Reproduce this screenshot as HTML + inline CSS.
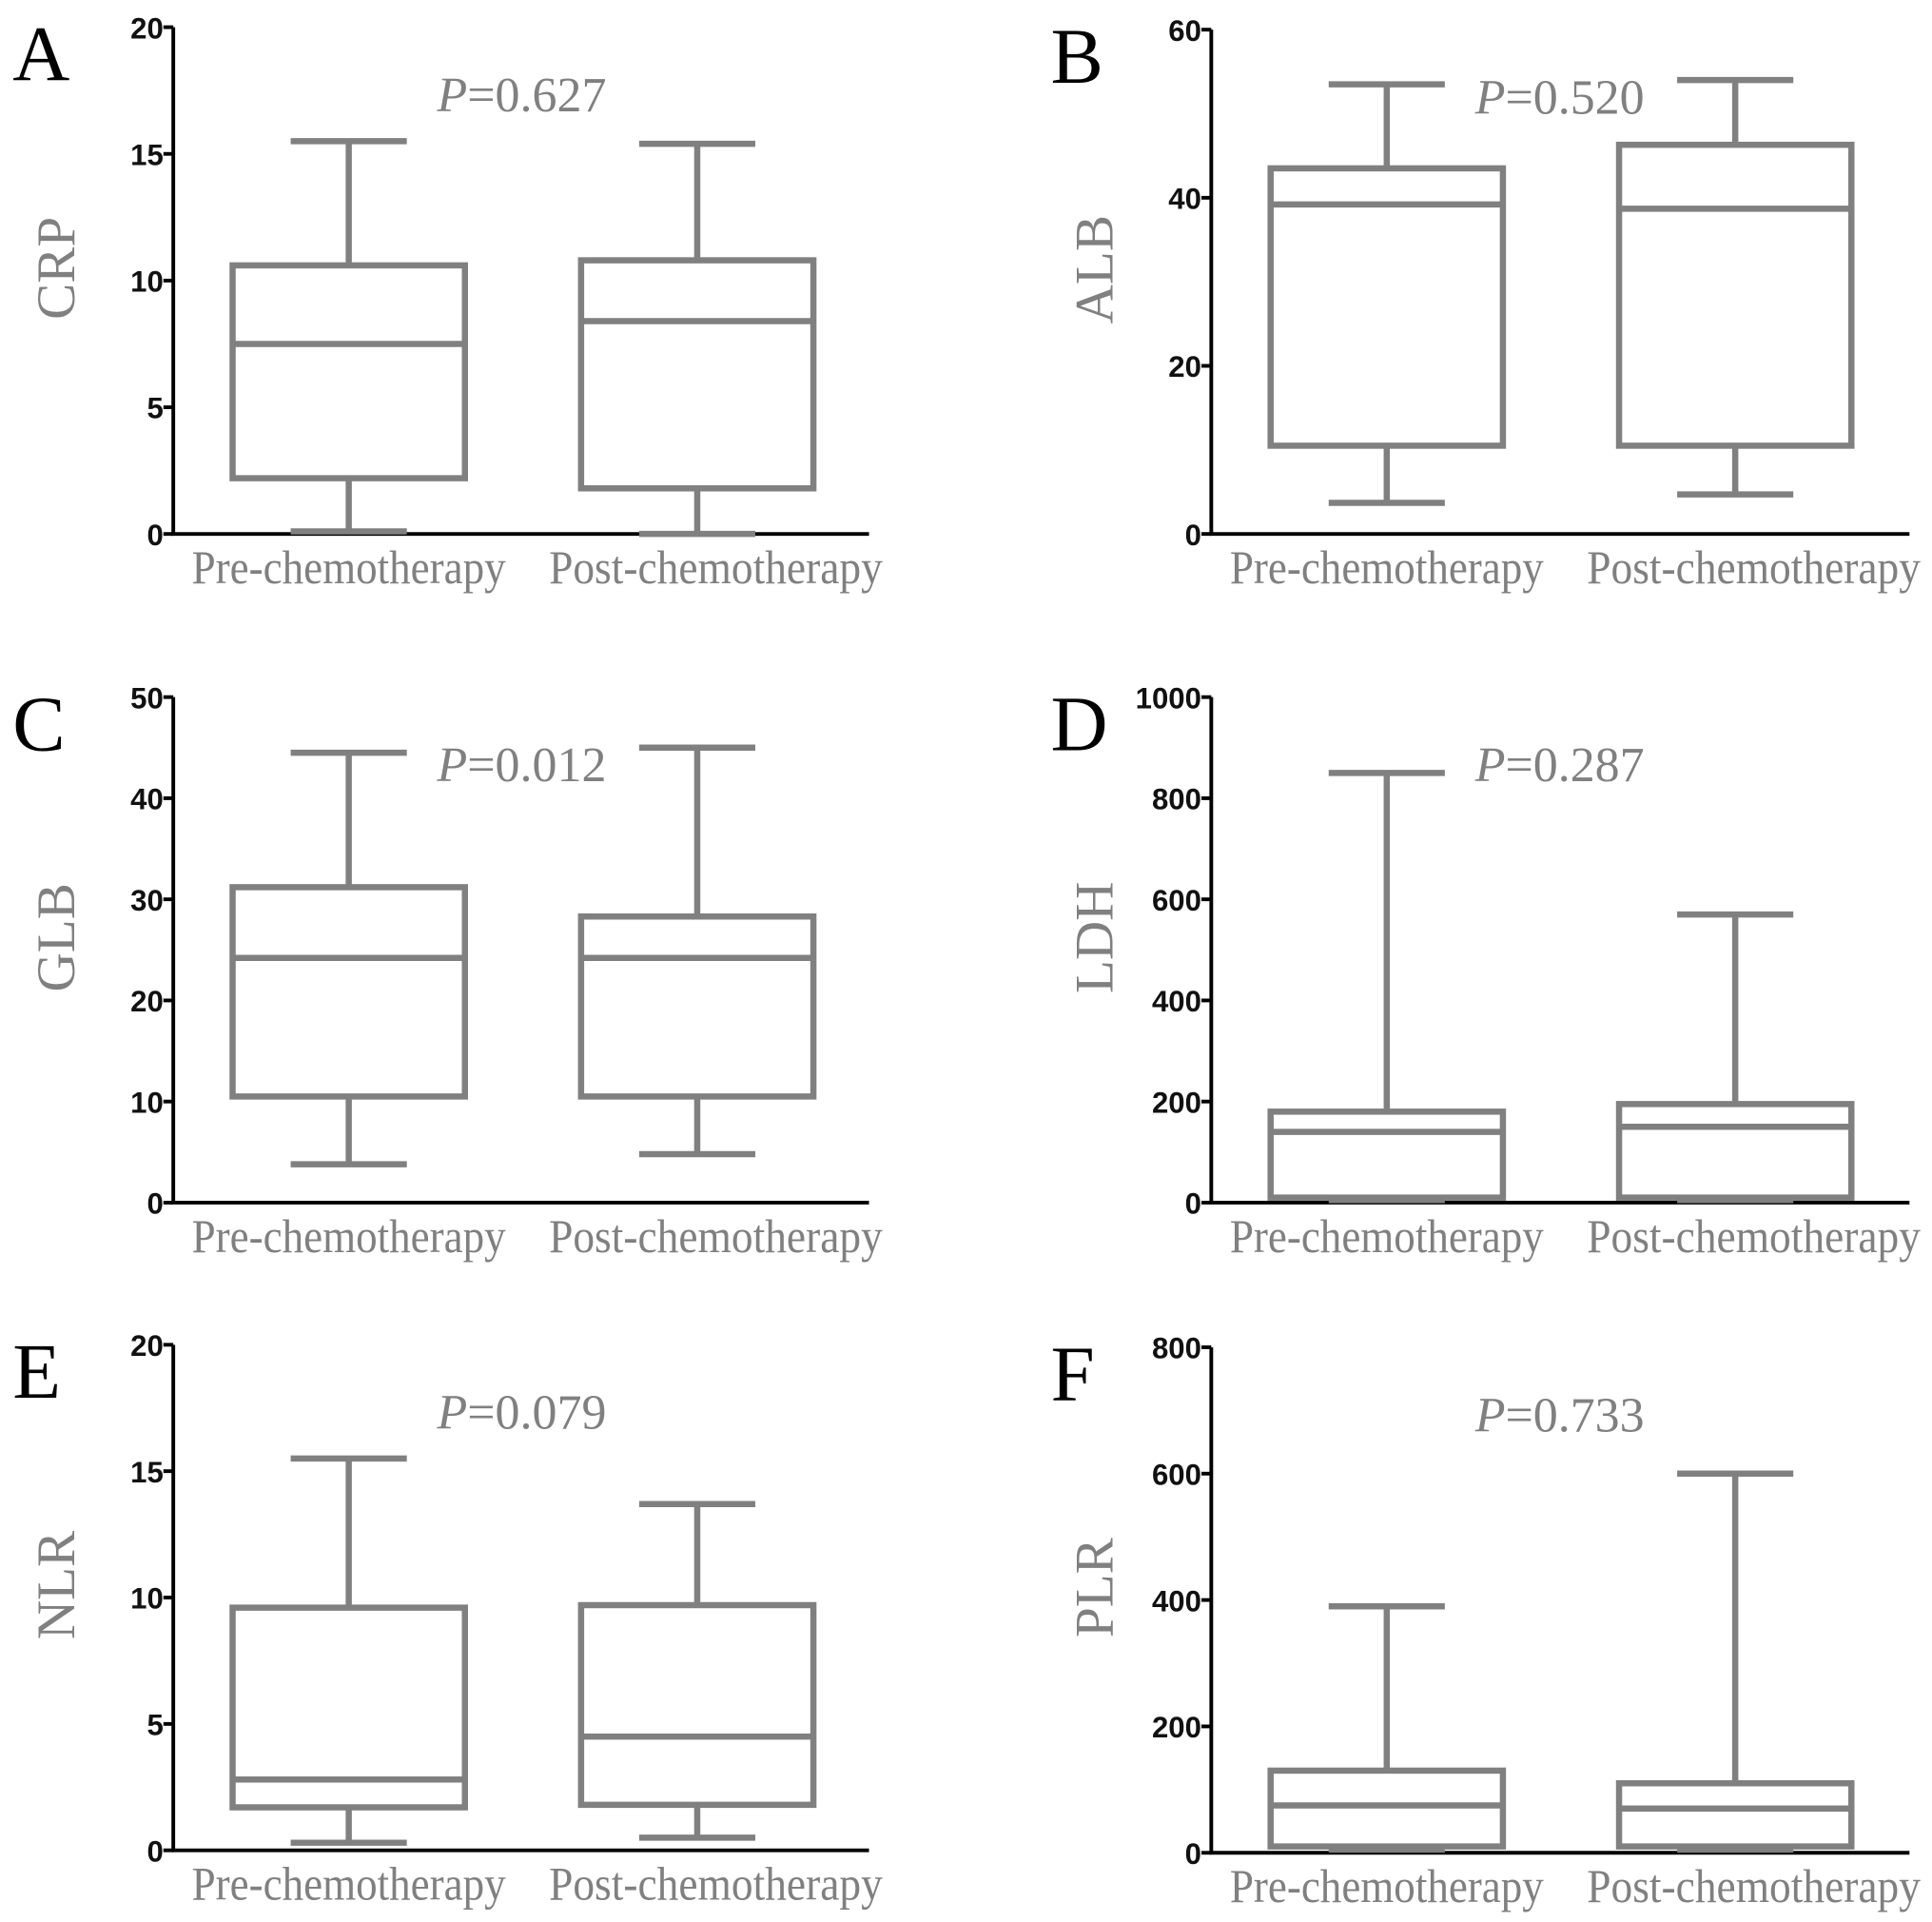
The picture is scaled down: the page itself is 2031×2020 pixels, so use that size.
<!DOCTYPE html>
<html><head><meta charset="utf-8"><style>
html,body{margin:0;padding:0;background:#fff;}
svg{display:block;}
</style></head><body>
<svg id="fig" width="2031" height="2020" viewBox="0 0 1563 1555" xmlns="http://www.w3.org/2000/svg"></svg>
<script>
const categories = ["Pre-chemotherapy", "Post-chemotherapy"];
const panelLetters = ["A","B","C","D","E","F"];
const yLabels = ["CRP","ALB","GLB","LDH","NLR","PLR"];
const pValues = ["0.627","0.520","0.012","0.287","0.079","0.733"];
const yMaxes = [20, 60, 50, 1000, 20, 800];
const tickSteps = [5, 20, 10, 200, 5, 200];
// [min, q1, median, q3, max] for pre and post
const preStats = [
  [0.1, 2.2, 7.5, 10.6, 15.5],
  [3.7, 10.5, 39.2, 43.5, 53.5],
  [3.8, 10.5, 24.2, 31.2, 44.5],
  [5, 10, 140, 180, 850],
  [0.3, 1.7, 2.8, 9.6, 15.5],
  [5, 10, 75, 130, 390]
];
const postStats = [
  [0.0, 1.8, 8.4, 10.8, 15.4],
  [4.7, 10.5, 38.7, 46.3, 54.0],
  [4.8, 10.5, 24.2, 28.3, 45.0],
  [5, 10, 150, 195, 570],
  [0.5, 1.8, 4.5, 9.7, 13.7],
  [5, 10, 70, 110, 600]
];

const NS = "http://www.w3.org/2000/svg";
const svg = document.getElementById("fig");
function mk(tag, attrs, parent) {
  const e = document.createElementNS(NS, tag);
  for (const k in attrs) e.setAttribute(k, attrs[k]);
  (parent || svg).appendChild(e);
  return e;
}
const layout = [
  {x0:140, x1:703, top:22, bottom:432},
  {x0:980, x1:1545, top:24, bottom:432},
  {x0:140, x1:703, top:564, bottom:973},
  {x0:980, x1:1545, top:564, bottom:973},
  {x0:140, x1:703, top:1088, bottom:1497},
  {x0:980, x1:1545, top:1090, bottom:1499}
];
const GRAY = "#808080";
for (let p = 0; p < 6; p++) {
  const L = layout[p];
  const g = mk("g", {});
  
  
  const y = v => L.bottom - (v / yMaxes[p]) * (L.bottom - L.top);
  const cx = [L.x0 + 142, L.x0 + 424];
  const letter = mk("text", {x: L.x0 - 130, y: L.top + 43, "font-family": "Liberation Serif, serif", "font-size": 64, fill: "#000"}, g);
  letter.textContent = panelLetters[p];
  
  
  const ya = mk("line", {x1: L.x0, y1: L.top, x2: L.x0, y2: L.bottom, stroke: "#000", "stroke-width": 3}, g);
  
  
  const xa = mk("line", {x1: L.x0 - 1.5, y1: L.bottom, x2: L.x1, y2: L.bottom, stroke: "#000", "stroke-width": 3}, g);
  
  
  for (let v = 0; v <= yMaxes[p]; v += tickSteps[p]) {
    mk("line", {x1: L.x0 - 8, y1: y(v), x2: L.x0, y2: y(v), stroke: "#000", "stroke-width": 3}, g);
    const t = mk("text", {x: L.x0 - 8, y: y(v) + 9, "text-anchor": "end", "font-family": "Liberation Sans Narrow, Liberation Sans, sans-serif", "font-weight": "bold", "font-size": 24, fill: "#111"}, g);
    t.textContent = v;
    
    
  }
  const yl = mk("text", {x: 0, y: 0, transform: `translate(${L.x0 - 80},${(L.top + L.bottom) / 2 - 10}) rotate(-90)`, "text-anchor": "middle", "font-family": "Liberation Serif, serif", "font-size": 44, fill: GRAY}, g);
  yl.textContent = yLabels[p];
  
  
  const pt = mk("text", {x: L.x0 + 282, y: L.top + 68, "text-anchor": "middle", "font-family": "Liberation Serif, serif", "font-size": 40, fill: GRAY}, g);
  pt.innerHTML = '<tspan font-style="italic">P</tspan>=' + pValues[p];
  
  
  const stats = [preStats[p], postStats[p]];
  for (let i = 0; i < 2; i++) {
    const s = stats[i];
    const c = cx[i];
    const bg = mk("g", {fill: "none", stroke: GRAY, "stroke-width": 5}, g);
    
    
    mk("line", {x1: c, y1: y(s[0]), x2: c, y2: y(s[1])}, bg);
    mk("line", {x1: c, y1: y(s[3]), x2: c, y2: y(s[4])}, bg);
    mk("line", {x1: c - 47, y1: y(s[0]), x2: c + 47, y2: y(s[0])}, bg);
    mk("line", {x1: c - 47, y1: y(s[4]), x2: c + 47, y2: y(s[4])}, bg);
    mk("rect", {x: c - 94, y: y(s[3]), width: 188, height: y(s[1]) - y(s[3])}, bg);
    mk("line", {x1: c - 94, y1: y(s[2]), x2: c + 94, y2: y(s[2])}, bg);
    const cl = mk("text", {x: c + (i ? 15 : 0), y: L.bottom + 40, "text-anchor": "middle", "font-family": "Liberation Serif, serif", "font-size": 38, fill: GRAY, textLength: i ? 270 : 254, lengthAdjust: "spacingAndGlyphs"}, g);
    cl.textContent = categories[i];
    
    
  }
}
</script>
</body></html>
